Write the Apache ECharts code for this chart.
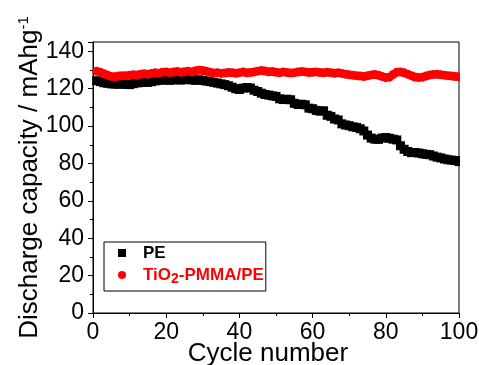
<!DOCTYPE html>
<html>
<head>
<meta charset="utf-8">
<script src="https://cdn.jsdelivr.net/npm/echarts@6/dist/echarts.min.js"></script>
<style>
  html, body { margin: 0; padding: 0; background: #fff; }
  #chart { width: 479px; height: 365px; }
</style>
</head>
<body>
<div id="chart"></div>
<script>
// cycle number 1..100
var cycles = [];
for (var c = 1; c <= 100; c++) cycles.push(c);

// PE (black squares)
var peValues = [
  124.3, 123.8, 123.2, 122.9, 122.6, 122.5, 122.4, 122.6, 122.3, 122.2,
  122.7, 123.1, 123.3, 123.5, 123.4, 123.8, 124.2, 124.5, 124.6, 124.8,
  124.5, 124.7, 125.0, 124.6, 124.9, 125.0, 124.7, 124.5, 124.8, 124.4,
  124.1, 123.8, 123.4, 123.0, 122.6, 122.2, 121.6, 120.8, 120.0, 119.6,
  120.3, 120.6, 120.4, 119.2, 118.5, 117.6, 116.9, 116.6, 116.2, 115.9,
  114.6, 114.2, 114.4, 114.1, 112.2, 111.6, 111.7, 111.4, 109.6, 109.3,
  108.4, 108.0, 108.2, 105.8, 105.2, 103.8, 103.3, 101.2, 100.6, 100.2,
  99.6, 99.3, 98.6, 97.4, 95.2, 93.6, 93.0, 92.9, 93.6, 93.9,
  93.5, 93.0, 92.6, 89.5, 87.6, 86.4, 85.8, 85.9, 85.6, 85.2,
  84.9, 84.7, 84.0, 83.4, 83.0, 82.4, 82.0, 81.8, 81.6, 81.0
];

// TiO2-PMMA/PE (red circles)
var tioValues = [
  129.4, 128.8, 128.0, 127.2, 126.6, 126.4, 126.8, 127.0, 126.9, 127.2,
  127.5, 127.3, 127.7, 128.0, 127.8, 128.2, 128.5, 128.3, 128.8, 129.0,
  128.6, 128.9, 129.2, 128.8, 129.1, 129.4, 129.0, 129.6, 129.9, 129.7,
  129.3, 128.8, 128.4, 128.6, 128.2, 128.4, 128.7, 128.5, 128.3, 128.6,
  128.9, 128.5, 128.7, 129.0, 129.4, 129.8, 129.5, 129.1, 129.2, 128.8,
  128.6, 128.9, 128.7, 128.4, 128.6, 128.9, 129.2, 129.0, 128.7, 128.8,
  129.0, 128.7, 128.5, 128.8, 128.6, 128.3, 128.5, 128.2, 127.8, 127.5,
  127.2, 127.0, 126.8, 126.5, 126.9, 127.4, 127.6, 127.2, 126.5, 126.0,
  126.2, 127.6, 128.8, 129.0, 128.5, 127.8, 127.0, 126.3, 126.0, 126.2,
  126.8, 127.3, 127.6, 127.7, 127.5, 127.2, 127.0, 126.8, 126.5, 126.4
];

var xTicks = [0, 20, 40, 60, 80, 100];
var yTicks = [0, 20, 40, 60, 80, 100, 120, 140];

var font = "'Liberation Sans', Arial, sans-serif";

var myChart = echarts.init(document.getElementById("chart"));

var option = {
  animation: false,
  textStyle: { fontFamily: font },
  grid: {
    left: 93,
    right: 20,
    top: 42,
    bottom: 52,
    containLabel: false,
    outerBoundsMode: "none",
    show: true,
    borderColor: "#000",
    borderWidth: 1,
  },
  // hides the part of the last markers that spills past the right frame
  graphic: [
    {
      type: "rect",
      right: 0,
      top: 30,
      z: 100,
      shape: { width: 19, height: 250 },
      style: { fill: "#fff" },
    },
  ],
  legend: {
    orient: "vertical",
    left: 104,
    top: 242,
    padding: [1, 2, 5, 14],
    itemGap: 2,
    itemWidth: 8,
    itemHeight: 8,
    borderColor: "#000",
    borderWidth: 1,
    borderRadius: 0,
    selectedMode: false,
    textStyle: {
      fontFamily: font,
      fontSize: 17,
      fontWeight: "bold",
      lineHeight: 20,
      padding: [0, 0, 0, 12],
    },
    formatter: function (name) {
      return name === "TiO2-PMMA/PE" ? "TiO{sub|2}-PMMA/PE" : name;
    },
    data: [
      { name: "PE", icon: "rect", textStyle: { color: "#000" } },
      {
        name: "TiO2-PMMA/PE",
        icon: "circle",
        textStyle: {
          color: "#ff0000",
          rich: {
            sub: {
              color: "#ff0000",
              fontFamily: font,
              fontWeight: "bold",
              fontSize: 14,
              padding: [8, 0, 0, 0],
            },
          },
        },
      },
    ],
  },
  xAxis: {
    type: "value",
    min: xTicks[0],
    max: xTicks[xTicks.length - 1],
    interval: 20,
    name: "Cycle number",
    nameLocation: "middle",
    nameGap: 28,
    nameMoveOverlap: false,
    nameTextStyle: {
      fontSize: 26,
      color: "#000",
      fontFamily: font,
      padding: [0, 16, 0, 0],
    },
    axisLine: { lineStyle: { color: "#000", width: 1 } },
    axisTick: { show: true, length: 5, lineStyle: { color: "#000" } },
    minorTick: { show: true, splitNumber: 2, length: 3, lineStyle: { color: "#000" } },
    splitLine: { show: false },
    axisLabel: { fontSize: 23, color: "#000", margin: 8, fontFamily: font },
  },
  yAxis: {
    type: "value",
    min: yTicks[0],
    max: 145,
    interval: 20,
    name: "Discharge capacity / mAhg{sup|-1}",
    nameLocation: "middle",
    nameGap: 50,
    nameMoveOverlap: false,
    nameTextStyle: {
      fontSize: 26,
      color: "#000",
      fontFamily: font,
      rich: {
        sup: { fontSize: 15, color: "#000", fontFamily: font, padding: [0, 0, 12, 0] },
      },
    },
    axisLine: { lineStyle: { color: "#000", width: 1 } },
    axisTick: { show: true, length: 5, lineStyle: { color: "#000" } },
    minorTick: { show: true, splitNumber: 2, length: 3, lineStyle: { color: "#000" } },
    splitLine: { show: false },
    axisLabel: {
      fontSize: 23,
      color: "#000",
      margin: 9,
      fontFamily: font,
      formatter: function (v) {
        return yTicks.indexOf(v) >= 0 ? String(v) : "";
      },
    },
  },
  series: [
    {
      name: "PE",
      type: "scatter",
      symbol: "rect",
      symbolSize: 9,
      itemStyle: { color: "#000", opacity: 1 },
      data: cycles.map(function (c, i) { return [c, peValues[i]]; }),
    },
    {
      name: "TiO2-PMMA/PE",
      type: "scatter",
      symbol: "circle",
      symbolSize: 9,
      itemStyle: { color: "#ff0000", opacity: 1 },
      data: cycles.map(function (c, i) { return [c, tioValues[i]]; }),
    },
  ],
};

myChart.setOption(option);
</script>
</body>
</html>
